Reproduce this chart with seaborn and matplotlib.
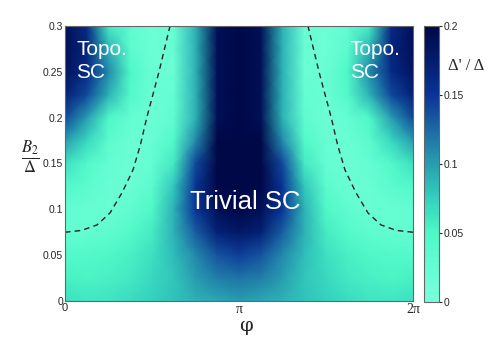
import numpy as np
import pandas as pd
import matplotlib
matplotlib.use("Agg")
import matplotlib.pyplot as plt
import seaborn as sns
from matplotlib.colors import LinearSegmentedColormap

# grid: phi in steps of pi/8 (0..2pi), B2/Delta in steps of 0.025 (0..0.3)
phi_labels = ["0", "π", "2π"]
b_values = [0.0, 0.025, 0.05, 0.075, 0.1, 0.125, 0.15, 0.175, 0.2, 0.225, 0.25, 0.275, 0.3]

# Delta'/Delta, one row per B2/Delta value (bottom to top)
gap_b000 = [0.065, 0.062, 0.063, 0.068, 0.075, 0.082, 0.090, 0.095, 0.100, 0.095, 0.090, 0.082, 0.075, 0.068, 0.063, 0.062, 0.065]
gap_b025 = [0.055, 0.052, 0.055, 0.060, 0.070, 0.080, 0.100, 0.115, 0.120, 0.115, 0.100, 0.080, 0.070, 0.060, 0.055, 0.052, 0.055]
gap_b050 = [0.045, 0.045, 0.048, 0.055, 0.065, 0.085, 0.110, 0.135, 0.145, 0.135, 0.110, 0.085, 0.065, 0.055, 0.048, 0.045, 0.045]
gap_b075 = [0.025, 0.027, 0.032, 0.042, 0.058, 0.090, 0.130, 0.170, 0.180, 0.170, 0.130, 0.090, 0.058, 0.042, 0.032, 0.027, 0.025]
gap_b100 = [0.028, 0.022, 0.020, 0.030, 0.048, 0.090, 0.150, 0.190, 0.200, 0.190, 0.150, 0.090, 0.048, 0.030, 0.020, 0.022, 0.028]
gap_b125 = [0.045, 0.035, 0.020, 0.018, 0.035, 0.080, 0.150, 0.200, 0.210, 0.200, 0.150, 0.080, 0.035, 0.018, 0.020, 0.035, 0.045]
gap_b150 = [0.065, 0.045, 0.025, 0.015, 0.025, 0.060, 0.140, 0.200, 0.220, 0.200, 0.140, 0.060, 0.025, 0.015, 0.025, 0.045, 0.065]
gap_b175 = [0.100, 0.070, 0.035, 0.018, 0.020, 0.045, 0.110, 0.200, 0.220, 0.200, 0.110, 0.045, 0.020, 0.018, 0.035, 0.070, 0.100]
gap_b200 = [0.140, 0.100, 0.050, 0.025, 0.015, 0.030, 0.090, 0.190, 0.210, 0.190, 0.090, 0.030, 0.015, 0.025, 0.050, 0.100, 0.140]
gap_b225 = [0.170, 0.140, 0.090, 0.045, 0.018, 0.025, 0.090, 0.190, 0.210, 0.190, 0.090, 0.025, 0.018, 0.045, 0.090, 0.140, 0.170]
gap_b250 = [0.185, 0.160, 0.110, 0.050, 0.018, 0.018, 0.090, 0.190, 0.210, 0.190, 0.090, 0.018, 0.018, 0.050, 0.110, 0.160, 0.185]
gap_b275 = [0.190, 0.165, 0.090, 0.035, 0.015, 0.020, 0.090, 0.190, 0.210, 0.190, 0.090, 0.020, 0.015, 0.035, 0.090, 0.165, 0.190]
gap_b300 = [0.190, 0.160, 0.060, 0.030, 0.015, 0.020, 0.090, 0.190, 0.210, 0.190, 0.090, 0.020, 0.015, 0.030, 0.060, 0.160, 0.190]

# phase boundary (dashed), left branch; right branch is its mirror about pi
boundary_phi = [0.0, 0.3, 0.578, 0.812, 1.029, 1.228, 1.36, 1.48, 1.60, 1.697, 1.896]
boundary_b = [0.075, 0.077, 0.083, 0.096, 0.118, 0.143, 0.17, 0.201, 0.228, 0.25, 0.30]

gap = pd.DataFrame([gap_b000, gap_b025, gap_b050, gap_b075, gap_b100, gap_b125, gap_b150,
                    gap_b175, gap_b200, gap_b225, gap_b250, gap_b275, gap_b300], index=b_values)

cmap = LinearSegmentedColormap.from_list("gap", [
    (0.0, "#7affda"), (0.125, "#64fdd2"), (0.25, "#4ef8c6"), (0.375, "#34d0be"),
    (0.5, "#289eb0"), (0.625, "#1c69a5"), (0.75, "#0a3496"), (0.875, "#031c70"), (1.0, "#000848")])

sns.set_style("white")
plt.rcParams["font.family"] = ["Liberation Sans", "DejaVu Sans"]
plt.rcParams["mathtext.fontset"] = "stix"

fig = plt.figure(figsize=(4.98, 3.39), dpi=100)
ax = fig.add_axes([0.1305, 0.1121, 0.6988, 0.8112])
cax = fig.add_axes([0.8514, 0.109, 0.0301, 0.8142])

sns.heatmap(gap, ax=ax, cbar_ax=cax, cmap=cmap, vmin=0, vmax=0.2,
            xticklabels=False, yticklabels=False, shading="gouraud")

ncol = gap.shape[1] - 1
nrow = gap.shape[0] - 1
ax.set_xlim(0, ncol)
ax.set_ylim(0, nrow)
db = b_values[1] - b_values[0]
dphi = 2 * np.pi / ncol

ax.set_xticks([0, ncol / 2, ncol])
ax.set_xticklabels(phi_labels)
for lab in ax.get_xticklabels()[1:]:
    lab.set_fontfamily("Liberation Serif")
    lab.set_fontsize(10)
ax.get_xticklabels()[0].set_fontsize(8)
yt = [0, 0.05, 0.1, 0.15, 0.2, 0.25, 0.3]
ax.set_yticks([v / db for v in yt])
ax.set_yticklabels(["0", "0.05", "0.1", "0.15", "0.2", "0.25", "0.3"], fontsize=7.5)
ax.tick_params(length=0, pad=1.5)
for s in ax.spines.values():
    s.set_visible(True)
    s.set_color("#666666")
    s.set_linewidth(0.8)

bphi = np.array(boundary_phi)
bb = np.array(boundary_b)
ax.plot(bphi / dphi, bb / db, ls=(0, (4, 3)), color="#222222", lw=1)
ax.plot((2 * np.pi - bphi) / dphi, bb / db, ls=(0, (4, 3)), color="#222222", lw=1)

ax.text(0.033, 0.95, "Topo.\nSC", transform=ax.transAxes, color="white", fontsize=15,
        ha="left", va="top", linespacing=1.27)
ax.text(0.818, 0.95, "Topo.\nSC", transform=ax.transAxes, color="white", fontsize=15,
        ha="left", va="top", linespacing=1.27)
ax.text(0.517, 0.36, "Trivial SC", transform=ax.transAxes, color="white", fontsize=18.5,
        ha="center", va="center")

fig.text(0.494, 0.038, "φ", fontsize=14, family="DejaVu Serif", ha="center", va="center")
fig.text(0.062, 0.535, r"$\frac{B_2}{\Delta}$", fontsize=17, ha="center", va="center")

cb = ax.collections[0].colorbar
cb.set_ticks([0, 0.05, 0.1, 0.15, 0.2])
cb.set_ticklabels(["0", "0.05", "0.1", "0.15", "0.2"])
cb.ax.tick_params(labelsize=7.5, length=2, pad=1)
cb.outline.set_edgecolor("#666666")
cb.outline.set_linewidth(0.8)
fig.text(0.935, 0.805, "Δ' / Δ", fontsize=12, family="Liberation Serif", ha="center", va="center")

fig.savefig("out.png", dpi=100)
